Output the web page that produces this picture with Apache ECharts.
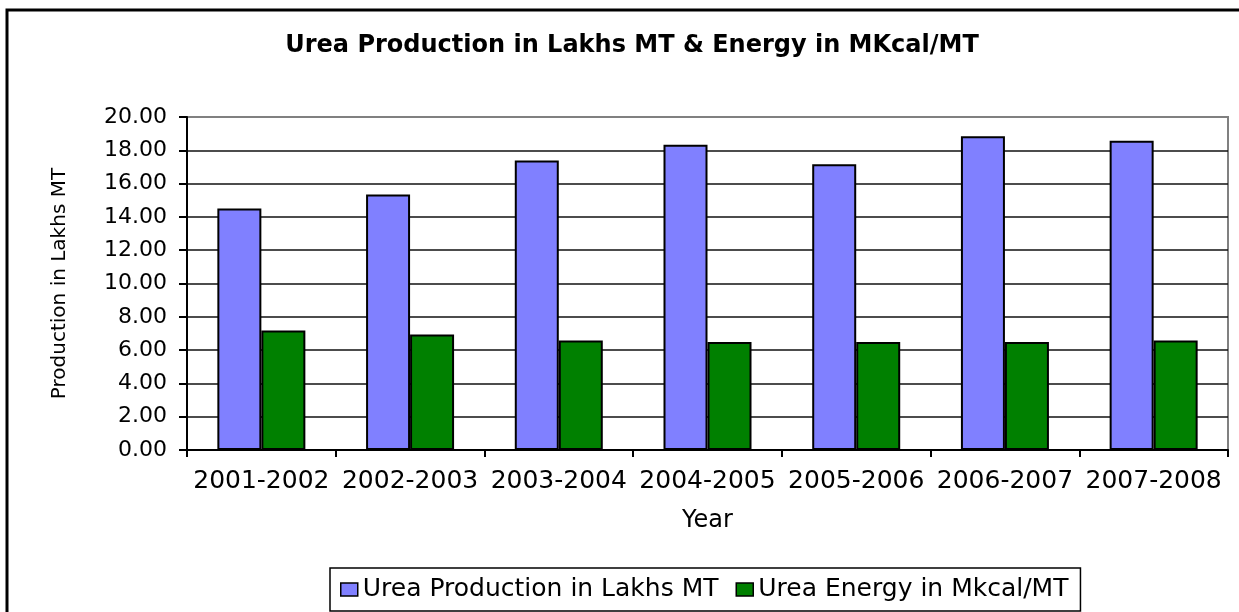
<!DOCTYPE html>
<html>
<head>
<meta charset="utf-8">
<title>Urea Production</title>
<script src="https://cdn.jsdelivr.net/npm/echarts@6/dist/echarts.min.js"></script>
<style>
  html, body { margin: 0; padding: 0; background: #fff; }
  #main { width: 1239px; height: 612px; }
</style>
</head>
<body>
<div id="main"></div>
<script>
const years = ["2001-2002", "2002-2003", "2003-2004", "2004-2005", "2005-2006", "2006-2007", "2007-2008"];
const production = [14.5, 15.34, 17.38, 18.34, 17.16, 18.84, 18.58];
const energy = [7.18, 6.94, 6.58, 6.48, 6.48, 6.48, 6.58];
const seriesNames = ["Urea Production in Lakhs MT", "Urea Energy in Mkcal/MT"];
const myColor = ["#8080FF", "#008000"];

const font = "DejaVu Sans";
const chart = echarts.init(document.getElementById("main"));

// gridlines black, the top one (20.00) is grey like the plot border
const gridColors = [];
for (let i = 0; i < 10; i++) gridColors.push("#111");
gridColors.push("#808080");

chart.setOption({
  animation: false,
  title: {
    text: "Urea Production in Lakhs MT & Energy in MKcal/MT",
    left: 627,
    top: 29,
    textAlign: "center",
    textStyle: { fontFamily: font, fontWeight: "bold", fontSize: 24, color: "#000" },
  },
  graphic: [
    {
      type: "rect",
      shape: { x: 7, y: 10, width: 1260, height: 640 },
      style: { fill: "none", stroke: "#000", lineWidth: 3 },
      silent: true,
    },
  ],
  legend: {
    left: 330,
    top: 568,
    data: seriesNames,
    icon: "rect",
    itemWidth: 17,
    itemHeight: 13,
    itemGap: 17,
    padding: [9, 12, 9, 10],
    borderColor: "#000",
    borderWidth: 1.5,
    itemStyle: { borderColor: "#000", borderWidth: 1.5 },
    textStyle: { fontFamily: font, fontSize: 25, color: "#000" },
  },
  grid: {
    left: 187,
    right: 11,
    top: 117,
    bottom: 162,
    show: true,
    borderColor: "#808080",
    borderWidth: 2,
  },
  xAxis: {
    type: "category",
    data: years,
    name: "Year",
    nameLocation: "middle",
    nameGap: 59,
    nameTextStyle: { fontFamily: font, fontSize: 24, color: "#000" },
    axisLine: { lineStyle: { color: "#000", width: 2 } },
    axisTick: { show: true, length: 7, lineStyle: { color: "#000", width: 2 } },
    axisLabel: { interval: 0, margin: 19, fontFamily: font, fontSize: 25, color: "#000" },
  },
  yAxis: {
    type: "value",
    min: 0,
    max: 20,
    interval: 2,
    name: "Production in Lakhs MT",
    nameLocation: "middle",
    nameRotate: 90,
    nameGap: 117,
    nameTextStyle: { fontFamily: font, fontSize: 20, color: "#000" },
    axisLine: { show: true, lineStyle: { color: "#000", width: 2 } },
    axisTick: { show: true, length: 8, lineStyle: { color: "#000", width: 2 } },
    axisLabel: {
      margin: 20,
      fontFamily: font,
      fontSize: 22,
      color: "#000",
      formatter: (v) => v.toFixed(2),
    },
    splitLine: { show: true, lineStyle: { color: gridColors, width: 1.6 } },
  },
  series: [
    {
      name: seriesNames[0],
      type: "bar",
      data: production,
      barWidth: 44,
      barGap: "0%",
      itemStyle: { color: myColor[0], borderColor: "#000", borderWidth: 2 },
    },
    {
      name: seriesNames[1],
      type: "bar",
      data: energy,
      barWidth: 44,
      barGap: "0%",
      itemStyle: { color: myColor[1], borderColor: "#000", borderWidth: 2 },
    },
  ],
});
</script>
</body>
</html>
